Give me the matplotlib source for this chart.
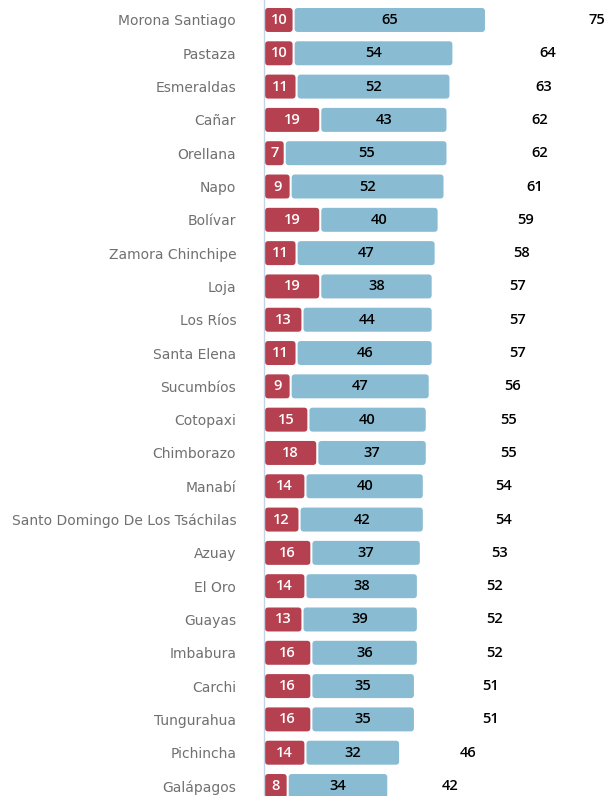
import matplotlib.pyplot as plt
from matplotlib.patches import FancyBboxPatch

provinces = ['Morona Santiago', 'Pastaza', 'Esmeraldas', 'Cañar', 'Orellana', 'Napo',
             'Bolívar', 'Zamora Chinchipe', 'Loja', 'Los Ríos', 'Santa Elena', 'Sucumbíos',
             'Cotopaxi', 'Chimborazo', 'Manabí', 'Santo Domingo De Los Tsáchilas', 'Azuay',
             'El Oro', 'Guayas', 'Imbabura', 'Carchi', 'Tungurahua', 'Pichincha', 'Galápagos']
red_vals = [10, 10, 11, 19, 7, 9, 19, 11, 19, 13, 11, 9, 15, 18, 14, 12, 16, 14, 13, 16, 16, 16, 14, 8]
blue_vals = [65, 54, 52, 43, 55, 52, 40, 47, 38, 44, 46, 47, 40, 37, 40, 42, 37, 38, 39, 36, 35, 35, 32, 34]
totals = [75, 64, 63, 62, 62, 61, 59, 58, 57, 57, 57, 56, 55, 55, 54, 54, 53, 52, 52, 52, 51, 51, 46, 42]

RED = '#b5404f'
BLUE = '#89bcd3'
NUM_FONT = dict(family='Open Sans', fontsize=10.5, fontweight='semibold')

fig = plt.figure(figsize=(6.08, 7.96), dpi=100)
ax = fig.add_axes([264 / 608, 0, 1 - 264 / 608, 1])

x_max = (608 - 264) / 2.96
y_top, y_bot = -0.6, 23.3
ax.set_xlim(0, x_max)
ax.set_ylim(y_bot, y_top)

# px per data unit, for rounding corners evenly
aspect = (796 / (y_bot - y_top)) / (344 / x_max)
bar_h = 0.72

def rounded_bar(x0, w, y, color):
    gap = 0.35
    p = FancyBboxPatch((x0 + gap, y - bar_h / 2), w - 2 * gap, bar_h,
                       boxstyle='round,pad=0,rounding_size=1.1',
                       mutation_aspect=1 / aspect,
                       facecolor=color, edgecolor='none')
    ax.add_patch(p)

ys = list(range(len(provinces)))
for y, r, b, t in zip(ys, red_vals, blue_vals, totals):
    rounded_bar(0, r, y, RED)
    rounded_bar(r, b, y, BLUE)
    ax.text(r / 2, y, str(r), ha='center', va='center', color='white', **NUM_FONT)
    ax.text(r + b / 2, y, str(b), ha='center', va='center', color='black', **NUM_FONT)
    ax.text(t * 1.5, y, str(t), ha='center', va='center', color='black', **NUM_FONT)

ax.set_yticks(ys)
ax.set_yticklabels(provinces, fontsize=10, color='#707070')
ax.tick_params(axis='y', length=0, pad=20)
ax.set_xticks([])
for s in ['top', 'right', 'bottom']:
    ax.spines[s].set_visible(False)
ax.spines['left'].set_color('#c6d3e3')
ax.spines['left'].set_linewidth(1)
ax.patch.set_alpha(0)

fig.savefig('out.png', dpi=100)
